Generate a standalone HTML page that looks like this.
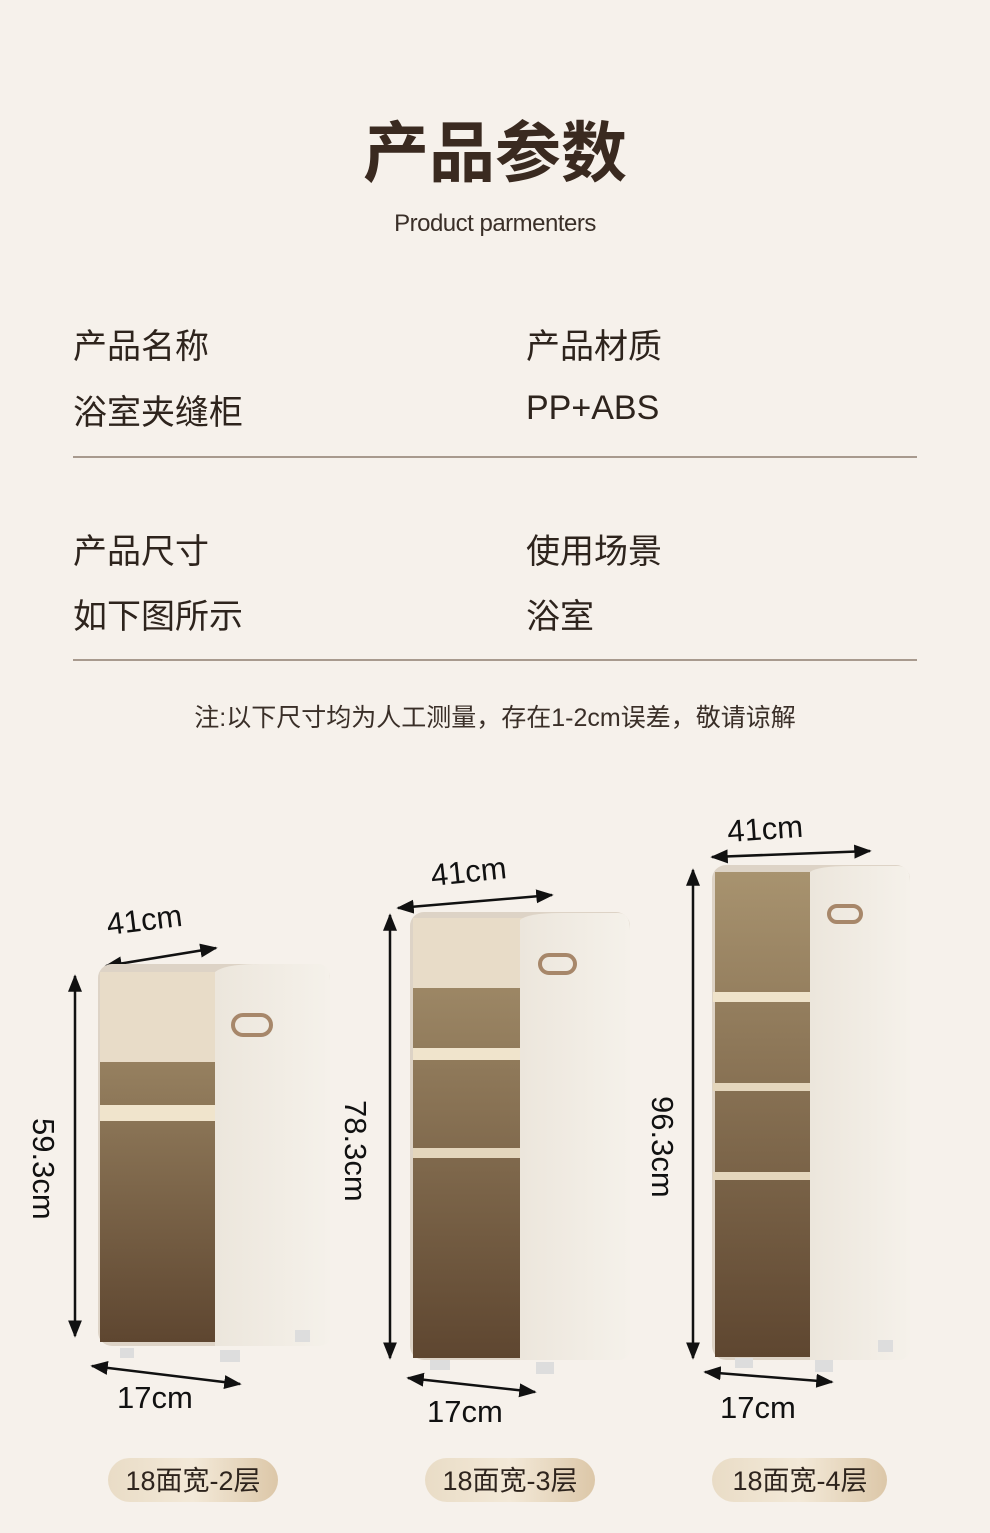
<!DOCTYPE html>
<html><head><meta charset="utf-8">
<style>
html,body{margin:0;padding:0}
body{width:990px;height:1533px;background:#f6f1eb;position:relative;overflow:hidden;font-family:"Liberation Sans","Noto Sans CJK SC",sans-serif;color:#2e241d}
.t{position:absolute;white-space:nowrap}
.line{position:absolute;left:73px;width:844px;height:2px;background:#a89a8e}
</style></head><body>
<div class="t" style="left:0;width:990px;text-align:center;top:100px;font-size:66px;font-weight:bold;color:#3a2a20">产品参数</div>
<div class="t" style="left:0;width:990px;text-align:center;top:210px;font-size:24px;color:#3a2f28;letter-spacing:-0.5px">Product parmenters</div>

<div class="t" style="left:73px;top:319px;font-size:34px">产品名称</div>
<div class="t" style="left:526px;top:319px;font-size:34px">产品材质</div>
<div class="t" style="left:73px;top:385px;font-size:34px">浴室夹缝柜</div>
<div class="t" style="left:526px;top:389px;font-size:34px">PP+ABS</div>
<div class="line" style="top:456px"></div>
<div class="t" style="left:73px;top:524px;font-size:34px">产品尺寸</div>
<div class="t" style="left:526px;top:524px;font-size:34px">使用场景</div>
<div class="t" style="left:73px;top:589px;font-size:34px">如下图所示</div>
<div class="t" style="left:526px;top:589px;font-size:34px">浴室</div>
<div class="line" style="top:659px"></div>
<div class="t" style="left:0;width:990px;text-align:center;top:698px;font-size:25px;color:#3a2f28">注:以下尺寸均为人工测量，存在1-2cm误差，敬请谅解</div>

<svg width="990" height="1533" style="position:absolute;left:0;top:0">
<defs>
<marker id="a" viewBox="0 0 10 10" refX="9" refY="5" markerWidth="7" markerHeight="7" orient="auto-start-reverse"><path d="M0,1 L10,5 L0,9 z" fill="#111"/></marker>
<linearGradient id="g" x1="0" y1="0" x2="0" y2="1"><stop offset="0" stop-color="#a8936f"/><stop offset="1" stop-color="#5e4630"/></linearGradient>
<linearGradient id="w" x1="0" y1="0" x2="1" y2="0"><stop offset="0" stop-color="#ece6dc"/><stop offset="1" stop-color="#f5f1ea"/></linearGradient>
<linearGradient id="p" x1="0" y1="0" x2="1" y2="0"><stop offset="0" stop-color="#e9dcc6"/><stop offset="0.5" stop-color="#f3e9d8"/><stop offset="1" stop-color="#dcc7a8"/></linearGradient>
</defs>
<g stroke="#111" stroke-width="2.5" fill="none">
<line x1="106" y1="966" x2="216" y2="948" marker-start="url(#a)" marker-end="url(#a)"/>
<line x1="75" y1="976" x2="75" y2="1336" marker-start="url(#a)" marker-end="url(#a)"/>
<line x1="92" y1="1366" x2="240" y2="1384" marker-start="url(#a)" marker-end="url(#a)"/>
<line x1="398" y1="908" x2="552" y2="895" marker-start="url(#a)" marker-end="url(#a)"/>
<line x1="390" y1="915" x2="390" y2="1358" marker-start="url(#a)" marker-end="url(#a)"/>
<line x1="408" y1="1378" x2="535" y2="1392" marker-start="url(#a)" marker-end="url(#a)"/>
<line x1="712" y1="857" x2="870" y2="851" marker-start="url(#a)" marker-end="url(#a)"/>
<line x1="693" y1="870" x2="693" y2="1358" marker-start="url(#a)" marker-end="url(#a)"/>
<line x1="705" y1="1372" x2="832" y2="1382" marker-start="url(#a)" marker-end="url(#a)"/>
</g>
<g font-size="31" fill="#111" font-family="Liberation Sans,sans-serif">
<text x="108" y="935" transform="rotate(-7 108 935)">41cm</text>
<text x="117" y="1408">17cm</text>
<text x="33" y="1118" transform="rotate(90 33 1118)">59.3cm</text>
<text x="432" y="886" transform="rotate(-6 432 886)">41cm</text>
<text x="427" y="1422">17cm</text>
<text x="345" y="1100" transform="rotate(90 345 1100)">78.3cm</text>
<text x="728" y="842" transform="rotate(-4 728 842)">41cm</text>
<text x="720" y="1418">17cm</text>
<text x="652" y="1096" transform="rotate(90 652 1096)">96.3cm</text>
</g>
<g>
<rect x="98" y="964" width="232" height="382" rx="14" fill="#ddd3c6"/>
<rect x="100" y="972" width="120" height="370" fill="url(#g)"/>
<rect x="100" y="972" width="120" height="90" fill="#e8dcc8"/>
<rect x="100" y="1105" width="115" height="16" fill="#f0e4cc"/>
<path d="M215,972 Q225,964 260,964 L318,964 Q330,964 330,980 L330,1335 Q330,1346 318,1346 L215,1346 Z" fill="url(#w)"/>
<rect x="233" y="1015" width="38" height="20" rx="10" fill="none" stroke="#a7876a" stroke-width="4"/>
<rect x="120" y="1348" width="14" height="10" fill="#ddd"/><rect x="220" y="1350" width="20" height="12" fill="#ddd"/><rect x="295" y="1330" width="15" height="12" fill="#ddd"/>

<rect x="410" y="912" width="220" height="448" rx="14" fill="#ddd3c6"/>
<rect x="413" y="918" width="110" height="440" fill="url(#g)"/>
<rect x="413" y="918" width="110" height="70" fill="#e8dcc8"/>
<rect x="413" y="1048" width="108" height="12" fill="#f0e4cc"/><rect x="413" y="1148" width="108" height="10" fill="#e4d6bc"/>
<path d="M520,920 Q528,913 560,913 L618,913 Q630,913 630,930 L630,1348 Q630,1360 618,1360 L520,1360 Z" fill="url(#w)"/>
<rect x="540" y="955" width="35" height="18" rx="9" fill="none" stroke="#a7876a" stroke-width="4"/>
<rect x="430" y="1360" width="20" height="10" fill="#ddd"/><rect x="536" y="1362" width="18" height="12" fill="#ddd"/>

<rect x="712" y="865" width="198" height="495" rx="14" fill="#ddd3c6"/>
<rect x="715" y="872" width="98" height="485" fill="url(#g)"/>
<rect x="713" y="992" width="98" height="10" fill="#efe3ca"/><rect x="713" y="1083" width="98" height="8" fill="#e4d6bc"/><rect x="713" y="1172" width="98" height="8" fill="#e4d6bc"/>
<path d="M810,872 Q818,866 850,866 L898,866 Q910,866 910,882 L910,1348 Q910,1360 898,1360 L810,1360 Z" fill="url(#w)"/>
<rect x="829" y="906" width="32" height="16" rx="8" fill="none" stroke="#a7876a" stroke-width="4"/>
<rect x="735" y="1358" width="18" height="10" fill="#ddd"/><rect x="815" y="1360" width="18" height="12" fill="#ddd"/><rect x="878" y="1340" width="15" height="12" fill="#ddd"/>
</g>
<rect x="108" y="1458" width="170" height="44" rx="22" fill="url(#p)"/>
<rect x="425" y="1458" width="170" height="44" rx="22" fill="url(#p)"/>
<rect x="712" y="1458" width="175" height="44" rx="22" fill="url(#p)"/>
<g font-size="27" fill="#2e241d" font-family="Liberation Sans,Noto Sans CJK SC,sans-serif" text-anchor="middle">
<text x="193" y="1490">18面宽-2层</text>
<text x="510" y="1490">18面宽-3层</text>
<text x="800" y="1490">18面宽-4层</text>
</g>
</svg>
</body></html>
